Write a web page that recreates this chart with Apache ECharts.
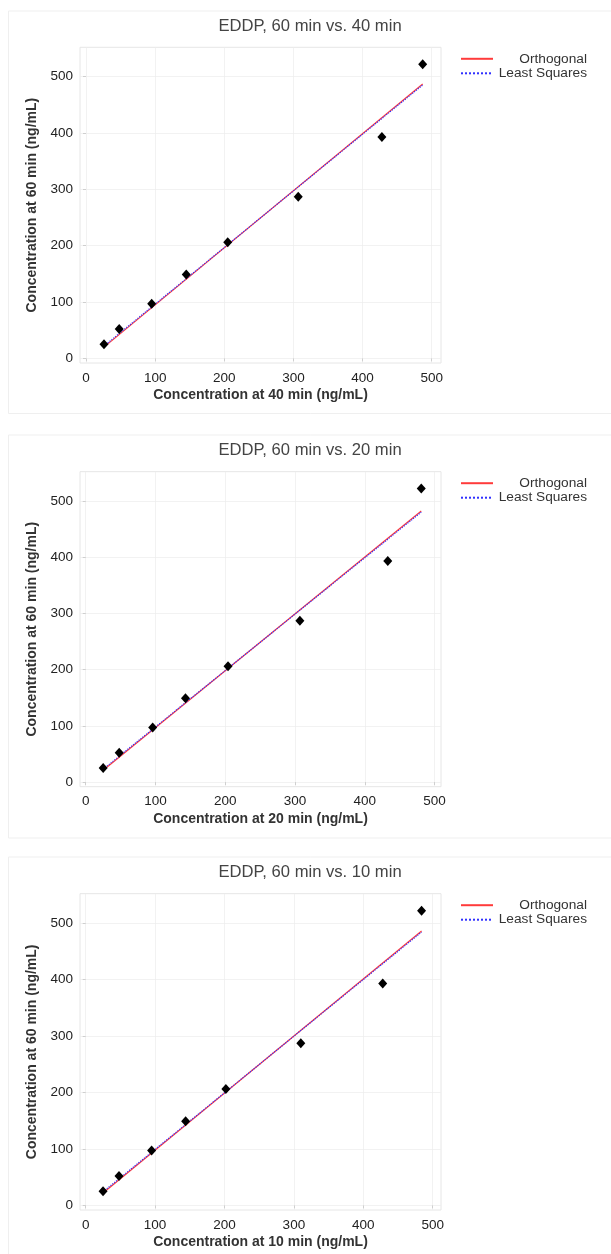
<!DOCTYPE html>
<html>
<head>
<meta charset="utf-8">
<title>EDDP concentration comparison</title>
<script src="https://cdn.jsdelivr.net/npm/echarts@6/dist/echarts.min.js"></script>
<style>
  html, body { margin: 0; padding: 0; background: #fff; }
  #chart { width: 611px; height: 1254px; }
</style>
</head>
<body>
<div id="chart"></div>
<script>
// concentration at 60 min (same samples in every panel)
const y60 = [25, 52, 97, 149, 206, 287, 393, 522]

const x40 = [26, 48, 95, 145, 205, 307, 428, 487]
const x20 = [25, 48, 96, 143, 204, 307, 433, 481]
const x10 = [25, 48, 95, 144, 202, 310, 428, 484]

// fitted line end points [x, y]
const ortho40 = [[26, 20], [487, 487]]
const lsq40 = [[26, 22], [487, 485]]
const ortho20 = [[25, 21], [481, 482]]
const lsq20 = [[25, 23], [481, 480]]
const ortho10 = [[25, 22], [484, 486]]
const lsq10 = [[25, 24], [484, 484]]

const tickValues = [0, 100, 200, 300, 400, 500]
const legendNames = ['Orthogonal', 'Least Squares']

const panels = [
  { minutes: '40 min', xs: x40, ortho: ortho40, lsq: lsq40, top: 47.3, height: 315.7, xMin: -8.7, xMax: 513.5, box: [11, 402.5] },
  { minutes: '20 min', xs: x20, ortho: ortho20, lsq: lsq20, top: 471.7, height: 315, xMin: -8.2, xMax: 509.3, box: [435, 403] },
  { minutes: '10 min', xs: x10, ortho: ortho10, lsq: lsq10, top: 893.7, height: 316.3, xMin: -8.2, xMax: 512, box: [857, 420] },
]

const font = '"Liberation Sans", Arial, sans-serif'
const tickStyle = { show: true, length: 3, customValues: tickValues, lineStyle: { color: '#cfcfcf' } }
const labelStyle = { customValues: tickValues, color: '#222', fontSize: 13.5, fontFamily: font }
const splitStyle = { lineStyle: { color: '#ededed', width: 0.7 } }
const nameStyle = { color: '#333', fontSize: 14, fontWeight: 'bold', fontFamily: font }

const chart = echarts.init(document.getElementById('chart'))

chart.setOption({
  animation: false,
  backgroundColor: '#fff',
  graphic: panels.map((p) => ({
    type: 'rect',
    silent: true,
    shape: { x: 8.5, y: p.box[0], width: 620, height: p.box[1] },
    style: { fill: 'none', stroke: '#efefef', lineWidth: 1 },
  })),
  title: panels.map((p) => ({
    text: `EDDP, 60 min vs. ${p.minutes}`,
    left: 310,
    top: p.top - 30,
    textAlign: 'center',
    padding: 0,
    textStyle: { color: '#444', fontSize: 16.6, fontWeight: 'normal', fontFamily: font, lineHeight: 18 },
  })),
  legend: panels.map((p) => ({
    data: legendNames,
    orient: 'vertical',
    left: 460,
    top: p.top + 4.5,
    padding: 0,
    itemWidth: 32,
    itemHeight: 10,
    itemGap: 0.5,
    itemStyle: { opacity: 0 },
    formatter: (name) => `{t|${name}}`,
    textStyle: {
      rich: { t: { width: 89, align: 'right', color: '#333', fontSize: 13.7, lineHeight: 14, fontFamily: font } },
    },
  })),
  grid: panels.map((p) => ({
    left: 80,
    top: p.top,
    width: 361,
    height: p.height,
    show: true,
    borderColor: '#e6e6e6',
    borderWidth: 1,
  })),
  xAxis: panels.map((p, i) => ({
    type: 'value',
    gridIndex: i,
    min: p.xMin,
    max: p.xMax,
    axisLine: { show: false },
    axisTick: tickStyle,
    axisLabel: { ...labelStyle, margin: 8 },
    splitLine: splitStyle,
    name: `Concentration at ${p.minutes} (ng/mL)`,
    nameLocation: 'middle',
    nameGap: 25,
    nameTextStyle: nameStyle,
  })),
  yAxis: panels.map((p, i) => ({
    type: 'value',
    gridIndex: i,
    min: -8.2,
    max: 552,
    axisLine: { show: false },
    axisTick: tickStyle,
    axisLabel: { ...labelStyle, margin: 7 },
    splitLine: splitStyle,
    name: 'Concentration at 60 min (ng/mL)',
    nameLocation: 'middle',
    nameGap: 33,
    nameTextStyle: nameStyle,
  })),
  series: panels.flatMap((p, i) => [
    {
      name: 'Orthogonal',
      type: 'line',
      xAxisIndex: i,
      yAxisIndex: i,
      data: p.ortho,
      symbol: 'none',
      lineStyle: { color: '#ff3b3b', width: 1.2 },
      itemStyle: { color: '#ff3b3b' },
      z: 2,
    },
    {
      name: 'Least Squares',
      type: 'line',
      xAxisIndex: i,
      yAxisIndex: i,
      data: p.lsq,
      symbol: 'none',
      lineStyle: { color: '#3030ff', width: 1.2, type: 'dotted' },
      itemStyle: { color: '#3030ff' },
      z: 3,
    },
    {
      name: 'Observed',
      type: 'scatter',
      xAxisIndex: i,
      yAxisIndex: i,
      data: p.xs.map((x, k) => [x, y60[k]]),
      symbol: 'diamond',
      symbolSize: [9, 10],
      itemStyle: { color: '#000', opacity: 1 },
      z: 4,
    },
  ]),
})
</script>
</body>
</html>
